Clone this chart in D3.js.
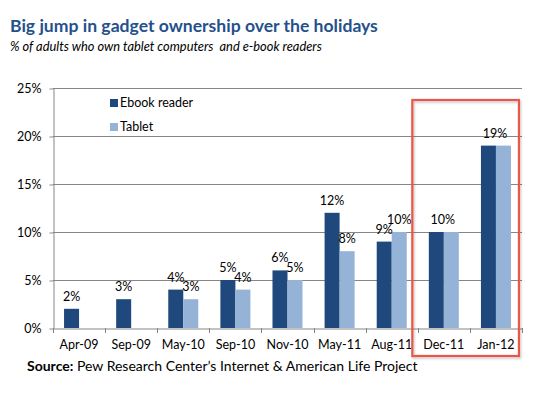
<!DOCTYPE html>
<html>
<head>
<meta charset="utf-8">
<script src="https://cdn.jsdelivr.net/npm/d3@7"></script>
<style>
  body { margin: 0; background: #fff; }
  svg { display: block; font-family: Lato, "Open Sans", sans-serif; }
</style>
</head>
<body>
<svg id="chart" width="539" height="397"></svg>
<script>
const categories = ['Apr-09', 'Sep-09', 'May-10', 'Sep-10', 'Nov-10', 'May-11', 'Aug-11', 'Dec-11', 'Jan-12'];
const ebook = [2, 3, 4, 5, 6, 12, 9, 10, 19];
const tablet = [null, null, 3, 4, 5, 8, 10, 10, 19];
const yTicks = [0, 5, 10, 15, 20, 25];
const seriesNames = ['Ebook reader', 'Tablet'];
const highlighted = ['Dec-11', 'Jan-12'];

const colors = ['#1f497d', '#95b3d7'];
const svg = d3.select('#chart');

const plot = {left: 53, right: 522, top: 88, bottom: 328};

const x0 = d3.scaleBand()
  .domain(categories)
  .range([plot.left, plot.right])
  .paddingInner(0.424)
  .paddingOuter(0.212);
const x1 = d3.scaleBand()
  .domain(seriesNames)
  .range([0, x0.bandwidth()]);
const y = d3.scaleLinear()
  .domain([0, 25])
  .range([plot.bottom, plot.top]);

// fit a text element to a target width by adjusting its font size
function fit(sel, width) {
  const node = sel.node();
  const fs = parseFloat(sel.attr('font-size'));
  const w = node.getComputedTextLength();
  sel.attr('font-size', (fs * width / w).toFixed(2));
}

// title + subtitle
svg.append('text')
  .attr('x', 10).attr('y', 32)
  .attr('font-size', 17)
  .attr('font-weight', 'bold')
  .attr('fill', '#24508c')
  .text('Big jump in gadget ownership over the holidays')
  .call(s => fit(s, 368));
svg.append('text')
  .attr('x', 10).attr('y', 51)
  .attr('font-size', 12)
  .attr('font-style', 'italic')
  .attr('fill', '#000')
  .attr('xml:space', 'preserve')
  .text('% of adults who own tablet computers  and e-book readers')
  .call(s => fit(s, 312));

// gridlines
svg.append('g')
  .selectAll('line')
  .data(yTicks.filter(d => d > 0))
  .enter().append('line')
  .attr('x1', plot.left).attr('x2', plot.right)
  .attr('y1', d => y(d) + 0.5).attr('y2', d => y(d) + 0.5)
  .attr('stroke', '#868686');

// y axis
const yAxis = svg.append('g')
  .attr('transform', `translate(${plot.left + 0.5},0)`)
  .call(d3.axisLeft(y).tickValues(yTicks).tickFormat(d => d + '%').tickSize(4).tickSizeOuter(0));
yAxis.select('.domain').attr('stroke', '#868686');
yAxis.selectAll('.tick line').attr('stroke', '#868686').attr('transform', 'translate(0,0.5)');
yAxis.selectAll('.tick text')
  .attr('font-family', 'Lato, sans-serif')
  .attr('font-size', 12.5)
  .attr('fill', '#000')
  .attr('x', -12)
  .attr('dy', '0.35em');

// bars
const groups = svg.append('g')
  .selectAll('g')
  .data(categories.map((c, i) => ({cat: c, vals: [ebook[i], tablet[i]]})))
  .enter().append('g')
  .attr('transform', d => `translate(${x0(d.cat)},0)`);

groups.selectAll('rect')
  .data(d => d.vals.map((v, j) => ({v, s: seriesNames[j], j})).filter(e => e.v !== null))
  .enter().append('rect')
  .attr('x', d => x1(d.s))
  .attr('y', d => y(d.v))
  .attr('width', x1.bandwidth())
  .attr('height', d => y(0) - y(d.v))
  .attr('fill', d => colors[d.j]);

// value labels (merged when both series match)
groups.each(function(d) {
  const g = d3.select(this);
  const [a, b] = d.vals;
  const labels = (a === b)
    ? [{v: a, cx: x0.bandwidth() / 2 - 1}]
    : d.vals.map((v, j) => ({v, cx: x1(seriesNames[j]) + x1.bandwidth() / 2})).filter(e => e.v !== null);
  g.selectAll('text.lbl')
    .data(labels)
    .enter().append('text')
    .attr('class', 'lbl')
    .attr('x', e => e.cx)
    .attr('y', e => y(e.v) - 8)
    .attr('text-anchor', 'middle')
    .attr('font-size', 12.5)
    .attr('fill', '#000')
    .text(e => e.v + '%');
});

// x axis
const xAxis = svg.append('g')
  .attr('transform', `translate(0,${plot.bottom + 0.5})`)
  .call(d3.axisBottom(x0).tickSize(0).tickSizeOuter(0));
xAxis.select('.domain').attr('stroke', '#868686');
xAxis.selectAll('.tick text')
  .attr('font-family', 'Lato, sans-serif')
  .attr('font-size', 12.5)
  .attr('fill', '#000')
  .attr('dy', 0)
  .attr('y', 20.5);
// tick marks between categories
const bounds = categories.map(c => x0(c) - x0.step() * x0.paddingInner() / 2)
  .concat([plot.right]);
svg.append('g')
  .selectAll('line')
  .data(bounds)
  .enter().append('line')
  .attr('x1', d => Math.round(d) + 0.5).attr('x2', d => Math.round(d) + 0.5)
  .attr('y1', plot.bottom).attr('y2', plot.bottom + 5)
  .attr('stroke', '#868686');

// legend
const legend = svg.append('g').attr('transform', 'translate(110,99)');
seriesNames.forEach((name, i) => {
  legend.append('rect')
    .attr('x', 0).attr('y', i * 24)
    .attr('width', 8).attr('height', 8)
    .attr('fill', colors[i]);
  legend.append('text')
    .attr('x', 10).attr('y', i * 24 + 4)
    .attr('dy', '0.35em')
    .attr('font-size', 12.5)
    .attr('fill', '#000')
    .text(name);
});

// highlight box
const defs = svg.append('defs');
const f = defs.append('filter').attr('id', 'shadow').attr('x', '-5%').attr('y', '-5%').attr('width', '115%').attr('height', '115%');
f.append('feDropShadow').attr('dx', 1).attr('dy', 1.5).attr('stdDeviation', 1.2).attr('flood-color', '#000').attr('flood-opacity', 0.25);
const hx0 = x0(highlighted[0]) - 16.5;
const hx1 = x0(highlighted[highlighted.length - 1]) + x0.bandwidth() + 8;
svg.append('rect')
  .attr('x', hx0).attr('y', 100)
  .attr('width', hx1 - hx0).attr('height', 256)
  .attr('fill', 'none')
  .attr('stroke', '#e8584a')
  .attr('stroke-width', 2.2)
  .attr('filter', 'url(#shadow)');

// source
const src = svg.append('text')
  .attr('x', 27).attr('y', 371)
  .attr('font-size', 13)
  .attr('fill', '#000');
src.append('tspan').attr('font-weight', 'bold').text('Source:');
src.append('tspan').text(' Pew Research Center\u2019s Internet & American Life Project');
fit(src, 391);
</script>
</body>
</html>
